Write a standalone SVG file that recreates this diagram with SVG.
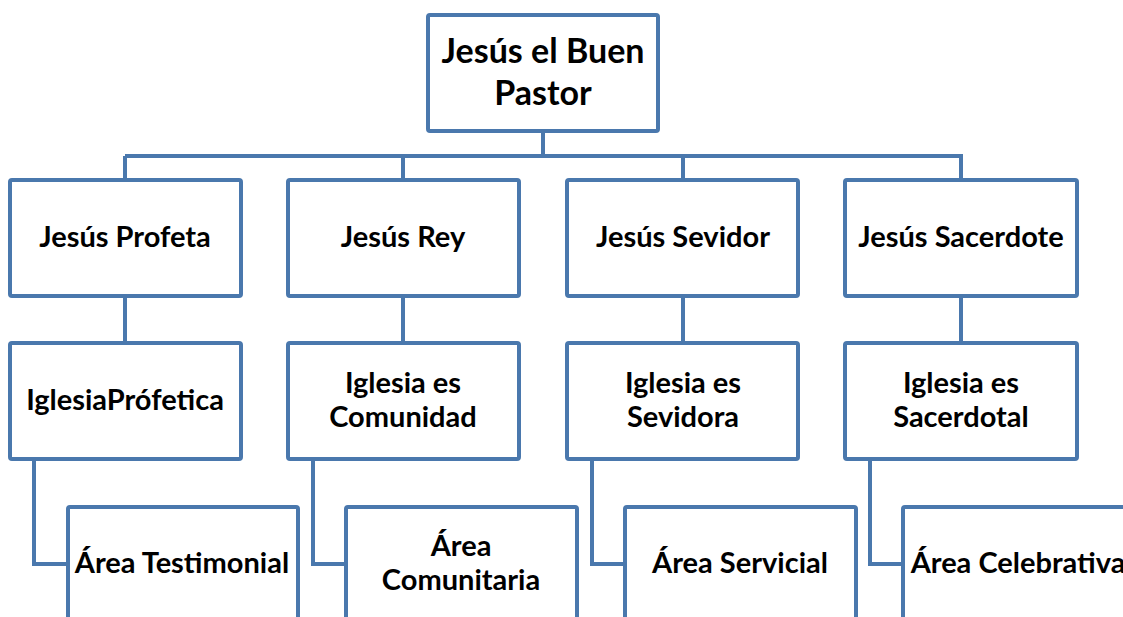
<svg xmlns="http://www.w3.org/2000/svg" width="1123" height="617" viewBox="0 0 1123 617">
<style>
.box{fill:#fff;stroke:#4a78ad;stroke-width:4}
.ln{fill:none;stroke:#4a78ad;stroke-width:4}
text{font-family:Lato,"Open Sans",sans-serif;font-weight:bold;font-size:29px;fill:#000;text-anchor:middle}
.big{font-size:34px}
</style>
<rect width="1123" height="617" fill="#fff"/>
<g id="connectors">
<path class="ln" d="M543 131V156M125 156H963M125 156V180M403 156V180M683 156V180M961 156V180"/>
<path class="ln" d="M125 296V343M403 296V343M683 296V343M961 296V343"/>
<path class="ln" d="M34 459V564H68M313 459V564H346M592 459V564H625M870 459V564H903"/>
</g>
<g id="root"><rect class="box" x="428" y="15" width="230" height="116" rx="2"/><text class="big" x="543" y="63">Jesús el Buen</text><text class="big" x="543" y="105">Pastor</text></g>
<g id="profeta"><rect class="box" x="10" y="180" width="231" height="116" rx="2"/><text x="125" y="247">Jesús Profeta</text></g>
<g id="rey"><rect class="box" x="288" y="180" width="231" height="116" rx="2"/><text x="403" y="247">Jesús Rey</text></g>
<g id="sevidor"><rect class="box" x="567" y="180" width="231" height="116" rx="2"/><text x="683" y="247">Jesús Sevidor</text></g>
<g id="sacerdote"><rect class="box" x="845" y="180" width="232" height="116" rx="2"/><text x="961" y="247">Jesús Sacerdote</text></g>
<g id="iglesia-profetica"><rect class="box" x="10" y="343" width="231" height="116" rx="2"/><text x="125" y="410">IglesiaPrófetica</text></g>
<g id="iglesia-comunidad"><rect class="box" x="288" y="343" width="231" height="116" rx="2"/><text x="403" y="393">Iglesia es</text><text x="403" y="427">Comunidad</text></g>
<g id="iglesia-sevidora"><rect class="box" x="567" y="343" width="231" height="116" rx="2"/><text x="683" y="393">Iglesia es</text><text x="683" y="427">Sevidora</text></g>
<g id="iglesia-sacerdotal"><rect class="box" x="845" y="343" width="232" height="116" rx="2"/><text x="961" y="393">Iglesia es</text><text x="961" y="427">Sacerdotal</text></g>
<g id="area-testimonial"><rect class="box" x="68" y="507" width="230" height="130" rx="2"/><text x="182" y="573">Área Testimonial</text></g>
<g id="area-comunitaria"><rect class="box" x="346" y="507" width="231" height="130" rx="2"/><text x="461" y="556">Área</text><text x="461" y="590">Comunitaria</text></g>
<g id="area-servicial"><rect class="box" x="625" y="507" width="231" height="130" rx="2"/><text x="740" y="573">Área Servicial</text></g>
<g id="area-celebrativa"><rect class="box" x="903" y="507" width="231" height="130" rx="2"/><text x="1018" y="573">Área Celebrativa</text></g>
</svg>
